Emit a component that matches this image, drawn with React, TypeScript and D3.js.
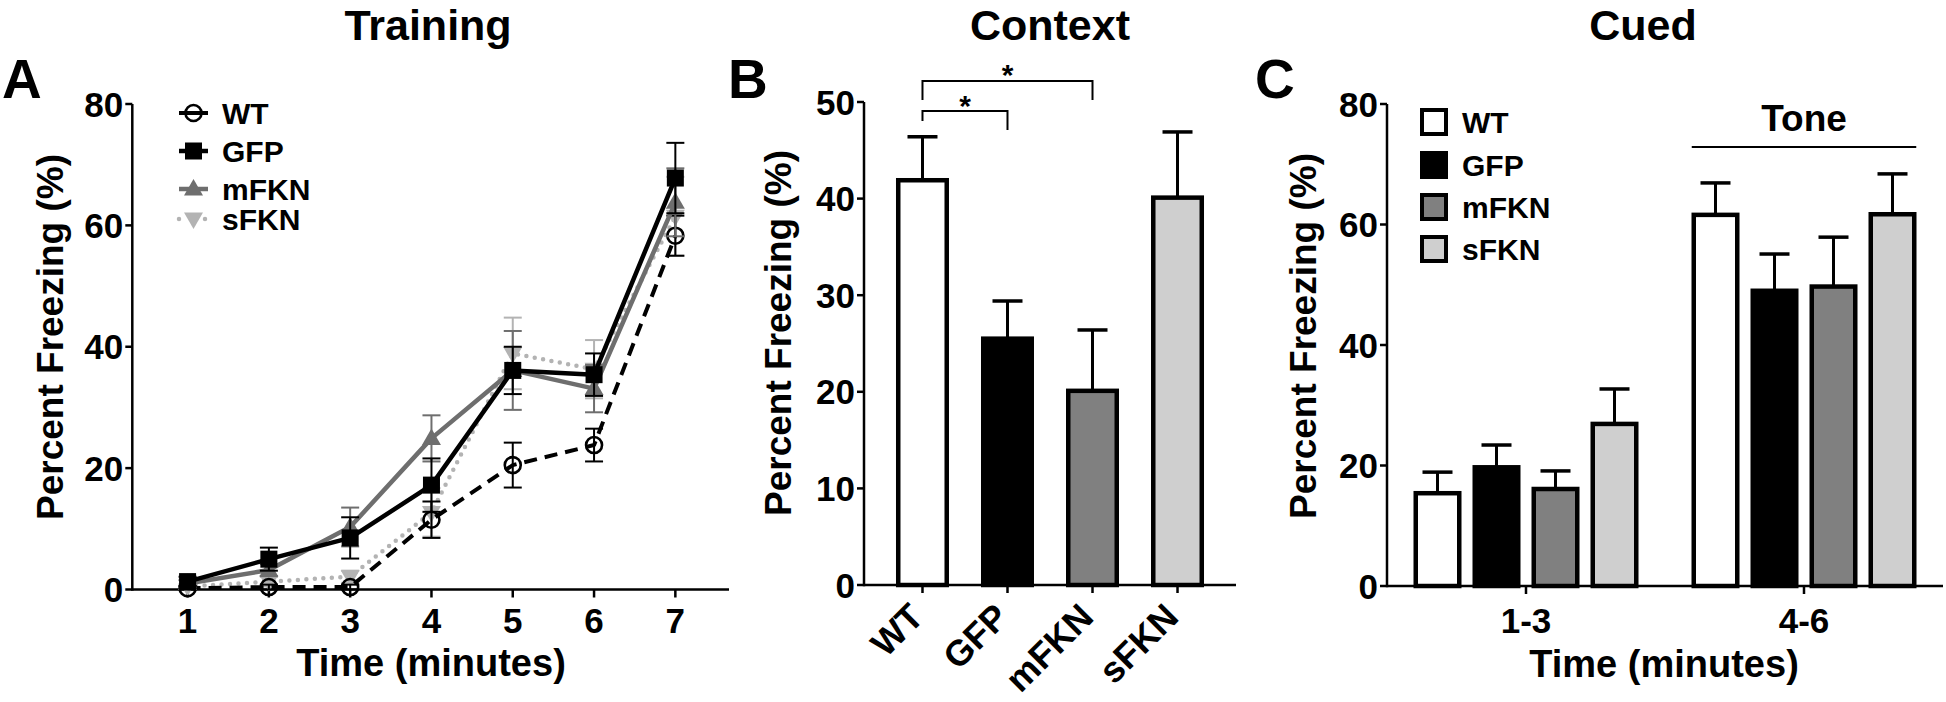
import React, { useEffect } from 'react';
import * as d3 from 'd3';

const FONT = "'Liberation Sans', Arial, Helvetica, sans-serif";

// ---------- Panel A: Training ----------
const minutes = [1, 2, 3, 4, 5, 6, 7];
const trainWT = [0.2, 0.4, 0.4, 11.5, 20.5, 23.8, 58.3];
const trainWTsem = [0.4, 0.4, 0.4, 3.0, 3.7, 2.7, 3.3];
const trainGFP = [1.3, 5.0, 8.5, 17.2, 36.1, 35.4, 67.8];
const trainGFPsem = [0.8, 1.9, 3.4, 4.4, 3.9, 3.5, 5.8];
const trainMFKN = [1.0, 3.2, 10.3, 24.9, 36.1, 33.1, 63.8];
const trainMFKNsem = [0.6, 1.0, 3.2, 3.8, 6.5, 3.9, 5.6];
const trainSFKN = [0.5, 1.3, 2.1, 12.7, 38.9, 36.3, 61.5];
const trainSFKNsem = [0.4, 0.8, 1.0, 4.0, 5.9, 4.8, 6.5];
const trainTicksY = [0, 20, 40, 60, 80];

// ---------- Panel B: Context ----------
const groups = ['WT', 'GFP', 'mFKN', 'sFKN'];
const contextMean = [41.9, 25.5, 20.1, 40.1];
const contextSem = [4.5, 3.9, 6.3, 6.8];
const contextTicksY = [0, 10, 20, 30, 40, 50];

// ---------- Panel C: Cued ----------
const cuedBins = ['1-3', '4-6'];
const cuedWT = [15.4, 61.6];
const cuedWTsem = [3.5, 5.3];
const cuedGFP = [19.7, 49.0];
const cuedGFPsem = [3.7, 6.1];
const cuedMFKN = [16.1, 49.7];
const cuedMFKNsem = [3.0, 8.2];
const cuedSFKN = [26.9, 61.7];
const cuedSFKNsem = [5.8, 6.7];
const cuedTicksY = [0, 20, 40, 60, 80];

const barFill = ['#ffffff', '#000000', '#808080', '#cfcfcf'];

type Marker = 'circle' | 'square' | 'tri' | 'triDown';
const lineSeries = [
  { name: 'sFKN', vals: trainSFKN, sem: trainSFKNsem, color: '#b3b3b3', dash: '0,8.5', cap: 'round', width: 4.5, marker: 'triDown' as Marker },
  { name: 'WT', vals: trainWT, sem: trainWTsem, color: '#000000', dash: '13,8', cap: 'butt', width: 4, marker: 'circle' as Marker },
  { name: 'mFKN', vals: trainMFKN, sem: trainMFKNsem, color: '#6e6e6e', dash: '', cap: 'butt', width: 4.5, marker: 'tri' as Marker },
  { name: 'GFP', vals: trainGFP, sem: trainGFPsem, color: '#000000', dash: '', cap: 'butt', width: 4.5, marker: 'square' as Marker },
];
const legendOrder = ['WT', 'GFP', 'mFKN', 'sFKN'];
const legendRowsA = [113, 151, 189, 219];

function MarkerShape({ type, color }: { type: Marker; color: string }) {
  if (type === 'circle') return <circle r={8} fill="none" stroke={color} strokeWidth={2.6} />;
  if (type === 'square') return <rect x={-8.5} y={-8.5} width={17} height={17} fill={color} />;
  if (type === 'tri') return <path d="M0,-10L9.5,6.5L-9.5,6.5Z" fill={color} />;
  return <path d="M0,10L9.5,-6.5L-9.5,-6.5Z" fill={color} />;
}

function YAxis({ x, scale, ticks }: { x: number; scale: d3.ScaleLinear<number, number>; ticks: number[] }) {
  const [y0, y1] = scale.range();
  return (
    <g>
      <line x1={x} x2={x} y1={y0 + 1.2} y2={y1} stroke="#000" strokeWidth={2.5} />
      {ticks.map((t) => (
        <g key={t}>
          <line x1={x - 7} x2={x} y1={scale(t)} y2={scale(t)} stroke="#000" strokeWidth={2.5} />
          <text x={x - 9} y={scale(t)} dy="0.36em" textAnchor="end" fontSize={35} fontWeight={700} fontFamily={FONT}>
            {t}
          </text>
        </g>
      ))}
    </g>
  );
}

function YTitle({ x, y }: { x: number; y: number }) {
  return (
    <text transform={`translate(${x},${y}) rotate(-90)`} textAnchor="middle" fontSize={37} fontWeight={700} fontFamily={FONT}>
      Percent Freezing (%)
    </text>
  );
}

export default function App() {
  useEffect(() => {
    document.body.style.margin = '0';
  }, []);

  // Panel A scales
  const xA = d3.scaleLinear().domain([0.32, 7.66]).range([132.3, 729]);
  const yA = d3.scaleLinear().domain([0, 80]).range([589.5, 104]);
  const lineGen = d3
    .line<number>()
    .x((_, i) => xA(minutes[i]))
    .y((d) => yA(d));

  // Panel B scales
  const xB = d3.scalePoint<string>().domain(groups).range([864, 1236]).padding(0.688);
  const yB = d3.scaleLinear().domain([0, 50]).range([585, 102]);
  const bwB = 48.5;

  // Panel C scales
  const xC = d3.scaleBand<string>().domain(cuedBins).range([1387, 1943]);
  const yC = d3.scaleLinear().domain([0, 80]).range([586, 104]);
  const pitchC = 59;
  const bwC = 43.5;
  const cuedSeries = [
    { vals: cuedWT, sem: cuedWTsem },
    { vals: cuedGFP, sem: cuedGFPsem },
    { vals: cuedMFKN, sem: cuedMFKNsem },
    { vals: cuedSFKN, sem: cuedSFKNsem },
  ];

  const a0 = yA(0);
  const b0 = yB(0);
  const c0 = yC(0);

  return (
    <svg width={1946} height={702} style={{ position: 'absolute', left: 0, top: 0, background: '#fff' }}>
      <rect width={1946} height={702} fill="#fff" />

      {/* ===== Titles & panel letters ===== */}
      <g fontFamily={FONT} fontWeight={700} textAnchor="middle" fontSize={43}>
        <text x={428} y={40}>Training</text>
        <text x={1050} y={40}>Context</text>
        <text x={1643} y={40}>Cued</text>
      </g>
      <g fontFamily={FONT} fontWeight={700} fontSize={55}>
        <text x={2} y={98}>A</text>
        <text x={728} y={98}>B</text>
        <text x={1255} y={98}>C</text>
      </g>

      {/* ===== Panel A ===== */}
      <YAxis x={132.3} scale={yA} ticks={trainTicksY} />
      <line x1={132.3} x2={729} y1={a0} y2={a0} stroke="#000" strokeWidth={2.5} />
      {minutes.map((m) => (
        <g key={m}>
          <line x1={xA(m)} x2={xA(m)} y1={a0} y2={a0 + 8} stroke="#000" strokeWidth={2.5} />
          <text x={xA(m)} y={633} textAnchor="middle" fontSize={35} fontWeight={700} fontFamily={FONT}>
            {m}
          </text>
        </g>
      ))}
      <text x={431} y={676} textAnchor="middle" fontSize={38} fontWeight={700} fontFamily={FONT}>
        Time (minutes)
      </text>
      <YTitle x={63} y={337} />

      {lineSeries.map((s) => (
        <g key={s.name}>
          <path
            d={lineGen(s.vals) || ''}
            fill="none"
            stroke={s.color}
            strokeWidth={s.width}
            strokeDasharray={s.dash || undefined}
            strokeLinecap={s.cap as any}
            strokeLinejoin="round"
          />
          {s.vals.map((v, i) => {
            const cx = xA(minutes[i]);
            const top = yA(v + s.sem[i]);
            const bot = yA(Math.max(0, v - s.sem[i]));
            return (
              <g key={i} stroke={s.color} strokeWidth={2}>
                <line x1={cx} x2={cx} y1={top} y2={bot} />
                <line x1={cx - 9} x2={cx + 9} y1={top} y2={top} />
                <line x1={cx - 9} x2={cx + 9} y1={bot} y2={bot} />
              </g>
            );
          })}
          {s.vals.map((v, i) => (
            <g key={'m' + i} transform={`translate(${xA(minutes[i])},${yA(v)})`}>
              <MarkerShape type={s.marker} color={s.color} />
            </g>
          ))}
        </g>
      ))}

      {/* Legend A */}
      {legendOrder.map((name, k) => {
        const s = lineSeries.find((q) => q.name === name)!;
        const y = legendRowsA[k];
        return (
          <g key={name}>
            <line
              x1={179}
              x2={208}
              y1={y}
              y2={y}
              stroke={s.color}
              strokeWidth={s.width}
              strokeDasharray={s.name === 'sFKN' ? '0,13' : undefined}
              strokeLinecap={s.cap as any}
            />
            <g transform={`translate(193.5,${y})`}>
              <MarkerShape type={s.marker} color={s.color} />
            </g>
            <text x={222} y={y} dy="0.36em" fontSize={30} fontWeight={700} fontFamily={FONT}>
              {name}
            </text>
          </g>
        );
      })}

      {/* ===== Panel B ===== */}
      {groups.map((g, i) => {
        const cx = xB(g)!;
        const top = yB(contextMean[i] + contextSem[i]);
        return (
          <g key={g}>
            <line x1={cx} x2={cx} y1={yB(contextMean[i])} y2={top} stroke="#000" strokeWidth={3} />
            <line x1={cx - 15} x2={cx + 15} y1={top} y2={top} stroke="#000" strokeWidth={3.5} />
            <rect
              x={cx - bwB / 2}
              y={yB(contextMean[i])}
              width={bwB}
              height={b0 - yB(contextMean[i])}
              fill={barFill[i]}
              stroke="#000"
              strokeWidth={4.5}
            />
          </g>
        );
      })}
      <YAxis x={864} scale={yB} ticks={contextTicksY} />
      <line x1={864} x2={1236} y1={b0} y2={b0} stroke="#000" strokeWidth={2.5} />
      {groups.map((g) => {
        const cx = xB(g)!;
        return (
          <g key={g}>
            <line x1={cx} x2={cx} y1={b0} y2={b0 + 8} stroke="#000" strokeWidth={2.5} />
            <text
              transform={`translate(${cx + 3},${b0 + 34}) rotate(-45)`}
              textAnchor="end"
              fontSize={36}
              fontWeight={700}
              fontFamily={FONT}
            >
              {g}
            </text>
          </g>
        );
      })}
      <YTitle x={791} y={333} />

      {/* significance brackets */}
      <g stroke="#000" strokeWidth={2} fill="none">
        <path d={`M${xB('WT')},100V81H${xB('mFKN')}V100`} />
        <path d={`M${xB('WT')},121V111H${xB('GFP')}V130`} />
      </g>
      <g fontFamily={FONT} fontWeight={700} fontSize={30} textAnchor="middle">
        <text x={(xB('WT')! + xB('mFKN')!) / 2} y={84.5}>*</text>
        <text x={(xB('WT')! + xB('GFP')!) / 2} y={116}>*</text>
      </g>

      {/* ===== Panel C ===== */}
      {cuedBins.map((b, j) => {
        const center = xC(b)! + xC.bandwidth() / 2;
        return cuedSeries.map((s, i) => {
          const cx = center + (i - 1.5) * pitchC;
          const v = s.vals[j];
          const top = yC(v + s.sem[j]);
          return (
            <g key={b + i}>
              <line x1={cx} x2={cx} y1={yC(v)} y2={top} stroke="#000" strokeWidth={3} />
              <line x1={cx - 15} x2={cx + 15} y1={top} y2={top} stroke="#000" strokeWidth={3.5} />
              <rect
                x={cx - bwC / 2}
                y={yC(v)}
                width={bwC}
                height={c0 - yC(v)}
                fill={barFill[i]}
                stroke="#000"
                strokeWidth={4.5}
              />
            </g>
          );
        });
      })}
      <YAxis x={1387} scale={yC} ticks={cuedTicksY} />
      <line x1={1387} x2={1943} y1={c0} y2={c0} stroke="#000" strokeWidth={2.5} />
      {cuedBins.map((b) => {
        const center = xC(b)! + xC.bandwidth() / 2;
        return (
          <g key={b}>
            <line x1={center} x2={center} y1={c0} y2={c0 + 8} stroke="#000" strokeWidth={2.5} />
            <text x={center} y={633} textAnchor="middle" fontSize={35} fontWeight={700} fontFamily={FONT}>
              {b}
            </text>
          </g>
        );
      })}
      <text x={1664} y={677} textAnchor="middle" fontSize={38} fontWeight={700} fontFamily={FONT}>
        Time (minutes)
      </text>
      <YTitle x={1316} y={336} />

      {/* Tone annotation */}
      {(() => {
        const center = xC('4-6')! + xC.bandwidth() / 2;
        const x1 = center - 1.5 * pitchC - bwC / 2 - 2;
        const x2 = center + 1.5 * pitchC + bwC / 2 + 2;
        return (
          <g>
            <line x1={x1} x2={x2} y1={147} y2={147} stroke="#000" strokeWidth={2.2} />
            <text x={(x1 + x2) / 2} y={131} textAnchor="middle" fontSize={37} fontWeight={700} fontFamily={FONT}>
              Tone
            </text>
          </g>
        );
      })()}

      {/* Legend C */}
      {groups.map((g, i) => {
        const y = [122, 165, 207, 249][i];
        return (
          <g key={g}>
            <rect x={1422} y={y - 12} width={24} height={24} fill={barFill[i]} stroke="#000" strokeWidth={4} />
            <text x={1462} y={y} dy="0.36em" fontSize={30} fontWeight={700} fontFamily={FONT}>
              {g}
            </text>
          </g>
        );
      })}
    </svg>
  );
}
